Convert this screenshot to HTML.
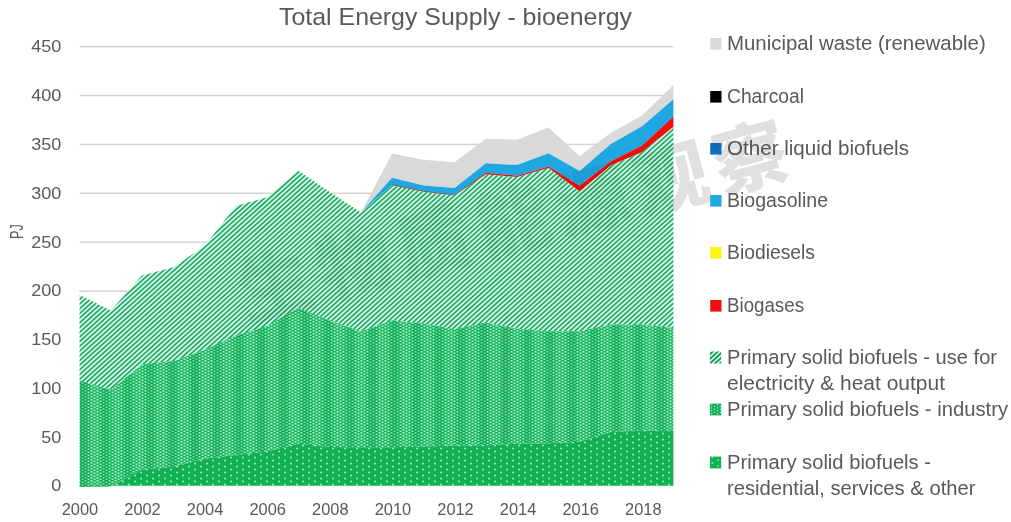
<!DOCTYPE html>
<html lang="en"><head><meta charset="utf-8"><title>Total Energy Supply - bioenergy</title>
<style>
html,body{margin:0;padding:0;background:#fff;}
body{width:1011px;height:522px;overflow:hidden;font-family:"Liberation Sans","Noto Sans CJK SC",sans-serif;}
svg{display:block;will-change:transform;}
text{font-family:"Liberation Sans","Noto Sans CJK SC",sans-serif;fill:#595959;}
.wm{font-family:"Liberation Sans","Noto Sans CJK SC",sans-serif;font-weight:900;}
</style></head><body>
<svg width="1011" height="522" viewBox="0 0 1011 522">
<defs>
<filter id="fBlur" x="0" y="0" width="1011" height="522" filterUnits="userSpaceOnUse"><feGaussianBlur stdDeviation="0.3"/></filter>
<pattern id="pInd" patternUnits="userSpaceOnUse" width="6" height="3">
<rect width="6" height="3" fill="#12a752"/>
<rect x="0.5" y="0" width="2" height="1.6" fill="#98ffcd"/>
<rect x="3.5" y="1.5" width="2" height="1.6" fill="#98ffcd"/>
</pattern>
<pattern id="pRes" patternUnits="userSpaceOnUse" width="12" height="6">
<rect width="12" height="6" fill="#14ae55"/>
<rect x="2.2" y="0.7" width="1.7" height="1.7" fill="#90ffc0"/>
<rect x="8.2" y="3.7" width="1.7" height="1.7" fill="#90ffc0"/>
</pattern>
</defs>
<rect width="1011" height="522" fill="#ffffff"/>

<text class="wm" transform="translate(793,174.4) rotate(-15)" font-size="74" x="-566 -484 -402 -320 -238 -156 -74" y="0" style="fill:#000;fill-opacity:0.07">生物质能源观察</text>
<rect x="79.6" y="45.85" width="594" height="1.5" fill="#d3d3d3"/>
<rect x="79.6" y="94.75" width="594" height="1.5" fill="#d3d3d3"/>
<rect x="79.6" y="143.65" width="594" height="1.5" fill="#d3d3d3"/>
<rect x="79.6" y="192.55" width="594" height="1.5" fill="#d3d3d3"/>
<rect x="79.6" y="241.45" width="594" height="1.5" fill="#d3d3d3"/>
<rect x="79.6" y="290.35" width="594" height="1.5" fill="#d3d3d3"/>
<rect x="79.6" y="339.25" width="594" height="1.5" fill="#d3d3d3"/>
<rect x="79.6" y="388.15" width="594" height="1.5" fill="#d3d3d3"/>
<rect x="79.6" y="437.05" width="594" height="1.5" fill="#d3d3d3"/>
<polygon points="79.6,295.1 110.8,310.5 142.1,275.6 173.3,267.3 204.6,246.1 235.8,206.0 267.1,197.2 298.4,170.8 329.6,192.1 360.9,212.4 392.1,153.4 423.4,159.7 454.6,162.3 485.9,138.7 517.1,139.7 548.4,127.4 579.6,156.0 610.9,132.7 642.1,115.6 673.4,84.9 673.4,99.2 642.1,126.2 610.9,144.1 579.6,170.9 548.4,153.2 517.1,165.1 485.9,163.3 454.6,188.1 423.4,185.6 392.1,177.8 360.9,212.4 329.6,192.1 298.4,170.8 267.1,197.2 235.8,206.0 204.6,246.1 173.3,267.3 142.1,275.6 110.8,310.5 79.6,295.1" fill="#d9d9d9"/>
<polygon points="79.6,295.1 110.8,310.5 142.1,275.6 173.3,267.3 204.6,246.1 235.8,206.0 267.1,197.2 298.4,170.8 329.6,192.1 360.9,212.4 392.1,177.8 423.4,185.6 454.6,188.1 485.9,163.3 517.1,165.1 548.4,153.2 579.6,170.9 610.9,144.1 642.1,126.2 673.4,99.2 673.4,116.5 642.1,145.4 610.9,161.3 579.6,185.7 548.4,166.5 517.1,175.7 485.9,172.8 454.6,195.1 423.4,191.4 392.1,185.2 360.9,212.4 329.6,192.1 298.4,170.8 267.1,197.2 235.8,206.0 204.6,246.1 173.3,267.3 142.1,275.6 110.8,310.5 79.6,295.1" fill="#1ea7e1"/>
<polygon points="79.6,295.1 110.8,310.5 142.1,275.6 173.3,267.3 204.6,246.1 235.8,206.0 267.1,197.2 298.4,170.8 329.6,192.1 360.9,212.4 392.1,185.2 423.4,191.4 454.6,195.1 485.9,172.8 517.1,175.7 548.4,166.5 579.6,185.7 610.9,161.3 642.1,145.4 673.4,116.5 673.4,127.1 642.1,152.2 610.9,165.5 579.6,191.4 548.4,167.9 517.1,177.1 485.9,174.2 454.6,195.5 423.4,191.7 392.1,185.2 360.9,212.4 329.6,192.1 298.4,170.8 267.1,197.2 235.8,206.0 204.6,246.1 173.3,267.3 142.1,275.6 110.8,310.5 79.6,295.1" fill="#f00f0f"/>
<polyline points="298.4,170.5 329.6,191.8 360.9,212.1" fill="none" stroke="#ffffa8" stroke-width="1.2" stroke-opacity="0.55"/>
<polyline points="392.1,185.2 423.4,191.7 454.6,195.5 485.9,174.2 517.1,177.1 548.4,167.9" fill="none" stroke="#c81818" stroke-width="1.2" stroke-opacity="0.85"/>
<clipPath id="cDiag"><polygon points="79.6,295.1 110.8,310.5 142.1,275.6 173.3,267.3 204.6,246.1 235.8,206.0 267.1,197.2 298.4,170.8 329.6,192.1 360.9,212.4 392.1,185.2 423.4,191.7 454.6,195.5 485.9,174.2 517.1,177.1 548.4,167.9 579.6,191.4 610.9,165.5 642.1,152.2 673.4,127.1 673.4,327.9 642.1,324.4 610.9,324.4 579.6,331.2 548.4,331.2 517.1,328.8 485.9,322.6 454.6,329.2 423.4,323.6 392.1,320.6 360.9,331.6 329.6,320.6 298.4,307.8 267.1,326.0 235.8,335.6 204.6,350.0 173.3,360.9 142.1,364.2 110.8,390.0 79.6,380.5"/></clipPath>
<g clip-path="url(#cDiag)"><rect x="79" y="100" width="596" height="300" fill="#c6ffe5"/>
<g filter="url(#fBlur)"><path d="M-302.82,410.0L51.23,90.0M-297.62,410.0L56.43,90.0M-292.42,410.0L61.63,90.0M-287.22,410.0L66.83,90.0M-282.02,410.0L72.03,90.0M-276.82,410.0L77.23,90.0M-271.62,410.0L82.43,90.0M-266.42,410.0L87.63,90.0M-261.22,410.0L92.83,90.0M-256.02,410.0L98.03,90.0M-250.82,410.0L103.23,90.0M-245.62,410.0L108.43,90.0M-240.42,410.0L113.63,90.0M-235.22,410.0L118.83,90.0M-230.02,410.0L124.03,90.0M-224.82,410.0L129.23,90.0M-219.62,410.0L134.43,90.0M-214.42,410.0L139.63,90.0M-209.22,410.0L144.83,90.0M-204.02,410.0L150.03,90.0M-198.82,410.0L155.23,90.0M-193.62,410.0L160.43,90.0M-188.42,410.0L165.63,90.0M-183.22,410.0L170.83,90.0M-178.02,410.0L176.03,90.0M-172.82,410.0L181.23,90.0M-167.62,410.0L186.43,90.0M-162.42,410.0L191.63,90.0M-157.22,410.0L196.83,90.0M-152.02,410.0L202.03,90.0M-146.82,410.0L207.23,90.0M-141.62,410.0L212.43,90.0M-136.42,410.0L217.63,90.0M-131.22,410.0L222.83,90.0M-126.02,410.0L228.03,90.0M-120.82,410.0L233.23,90.0M-115.62,410.0L238.43,90.0M-110.42,410.0L243.63,90.0M-105.22,410.0L248.83,90.0M-100.02,410.0L254.03,90.0M-94.82,410.0L259.23,90.0M-89.62,410.0L264.43,90.0M-84.42,410.0L269.63,90.0M-79.22,410.0L274.83,90.0M-74.02,410.0L280.03,90.0M-68.82,410.0L285.23,90.0M-63.62,410.0L290.43,90.0M-58.42,410.0L295.63,90.0M-53.22,410.0L300.83,90.0M-48.02,410.0L306.03,90.0M-42.82,410.0L311.23,90.0M-37.62,410.0L316.43,90.0M-32.42,410.0L321.63,90.0M-27.22,410.0L326.83,90.0M-22.02,410.0L332.03,90.0M-16.82,410.0L337.23,90.0M-11.62,410.0L342.43,90.0M-6.42,410.0L347.63,90.0M-1.22,410.0L352.83,90.0M3.98,410.0L358.03,90.0M9.18,410.0L363.23,90.0M14.38,410.0L368.43,90.0M19.58,410.0L373.63,90.0M24.78,410.0L378.83,90.0M29.98,410.0L384.03,90.0M35.18,410.0L389.23,90.0M40.38,410.0L394.43,90.0M45.58,410.0L399.63,90.0M50.78,410.0L404.83,90.0M55.98,410.0L410.03,90.0M61.18,410.0L415.23,90.0M66.38,410.0L420.43,90.0M71.58,410.0L425.63,90.0M76.78,410.0L430.83,90.0M81.98,410.0L436.03,90.0M87.18,410.0L441.23,90.0M92.38,410.0L446.43,90.0M97.58,410.0L451.63,90.0M102.78,410.0L456.83,90.0M107.98,410.0L462.03,90.0M113.18,410.0L467.23,90.0M118.38,410.0L472.43,90.0M123.58,410.0L477.63,90.0M128.78,410.0L482.83,90.0M133.98,410.0L488.03,90.0M139.18,410.0L493.23,90.0M144.38,410.0L498.43,90.0M149.58,410.0L503.63,90.0M154.78,410.0L508.83,90.0M159.98,410.0L514.03,90.0M165.18,410.0L519.23,90.0M170.38,410.0L524.43,90.0M175.58,410.0L529.63,90.0M180.78,410.0L534.83,90.0M185.98,410.0L540.03,90.0M191.18,410.0L545.23,90.0M196.38,410.0L550.43,90.0M201.58,410.0L555.63,90.0M206.78,410.0L560.83,90.0M211.98,410.0L566.03,90.0M217.18,410.0L571.23,90.0M222.38,410.0L576.43,90.0M227.58,410.0L581.63,90.0M232.78,410.0L586.83,90.0M237.98,410.0L592.03,90.0M243.18,410.0L597.23,90.0M248.38,410.0L602.43,90.0M253.58,410.0L607.63,90.0M258.78,410.0L612.83,90.0M263.98,410.0L618.03,90.0M269.18,410.0L623.23,90.0M274.38,410.0L628.43,90.0M279.58,410.0L633.63,90.0M284.78,410.0L638.83,90.0M289.98,410.0L644.03,90.0M295.18,410.0L649.23,90.0M300.38,410.0L654.43,90.0M305.58,410.0L659.63,90.0M310.78,410.0L664.83,90.0M315.98,410.0L670.03,90.0M321.18,410.0L675.23,90.0M326.38,410.0L680.43,90.0M331.58,410.0L685.63,90.0M336.78,410.0L690.83,90.0M341.98,410.0L696.03,90.0M347.18,410.0L701.23,90.0M352.38,410.0L706.43,90.0M357.58,410.0L711.63,90.0M362.78,410.0L716.83,90.0M367.98,410.0L722.03,90.0M373.18,410.0L727.23,90.0M378.38,410.0L732.43,90.0M383.58,410.0L737.63,90.0M388.78,410.0L742.83,90.0M393.98,410.0L748.03,90.0M399.18,410.0L753.23,90.0M404.38,410.0L758.43,90.0M409.58,410.0L763.63,90.0M414.78,410.0L768.83,90.0M419.98,410.0L774.03,90.0M425.18,410.0L779.23,90.0M430.38,410.0L784.43,90.0M435.58,410.0L789.63,90.0M440.78,410.0L794.83,90.0M445.98,410.0L800.03,90.0M451.18,410.0L805.23,90.0M456.38,410.0L810.43,90.0M461.58,410.0L815.63,90.0M466.78,410.0L820.83,90.0M471.98,410.0L826.03,90.0M477.18,410.0L831.23,90.0M482.38,410.0L836.43,90.0M487.58,410.0L841.63,90.0M492.78,410.0L846.83,90.0M497.98,410.0L852.03,90.0M503.18,410.0L857.23,90.0M508.38,410.0L862.43,90.0M513.58,410.0L867.63,90.0M518.78,410.0L872.83,90.0M523.98,410.0L878.03,90.0M529.18,410.0L883.23,90.0M534.38,410.0L888.43,90.0M539.58,410.0L893.63,90.0M544.78,410.0L898.83,90.0M549.98,410.0L904.03,90.0M555.18,410.0L909.23,90.0M560.38,410.0L914.43,90.0M565.58,410.0L919.63,90.0M570.78,410.0L924.83,90.0M575.98,410.0L930.03,90.0M581.18,410.0L935.23,90.0M586.38,410.0L940.43,90.0M591.58,410.0L945.63,90.0M596.78,410.0L950.83,90.0M601.98,410.0L956.03,90.0M607.18,410.0L961.23,90.0M612.38,410.0L966.43,90.0M617.58,410.0L971.63,90.0M622.78,410.0L976.83,90.0M627.98,410.0L982.03,90.0M633.18,410.0L987.23,90.0M638.38,410.0L992.43,90.0M643.58,410.0L997.63,90.0M648.78,410.0L1002.83,90.0M653.98,410.0L1008.03,90.0M659.18,410.0L1013.23,90.0M664.38,410.0L1018.43,90.0M669.58,410.0L1023.63,90.0M674.78,410.0L1028.83,90.0M679.98,410.0L1034.03,90.0M685.18,410.0L1039.23,90.0M690.38,410.0L1044.43,90.0M695.58,410.0L1049.63,90.0M700.78,410.0L1054.83,90.0" stroke="#229b5d" stroke-width="1.50" fill="none" shape-rendering="auto"/></g>
</g>
<polygon points="79.6,380.5 110.8,390.0 142.1,364.2 173.3,360.9 204.6,350.0 235.8,335.6 267.1,326.0 298.4,307.8 329.6,320.6 360.9,331.6 392.1,320.6 423.4,323.6 454.6,329.2 485.9,322.6 517.1,328.8 548.4,331.2 579.6,331.2 610.9,324.4 642.1,324.4 673.4,327.9 673.4,431.0 642.1,430.6 610.9,431.9 579.6,441.7 548.4,443.2 517.1,443.8 485.9,445.3 454.6,445.6 423.4,446.6 392.1,447.2 360.9,447.2 329.6,446.9 298.4,443.8 267.1,451.6 235.8,455.1 204.6,458.8 173.3,466.7 142.1,469.4 110.8,486.2 79.6,486.7" fill="url(#pInd)"/>
<clipPath id="cInd"><polygon points="79.6,380.5 110.8,390.0 142.1,364.2 173.3,360.9 204.6,350.0 235.8,335.6 267.1,326.0 298.4,307.8 329.6,320.6 360.9,331.6 392.1,320.6 423.4,323.6 454.6,329.2 485.9,322.6 517.1,328.8 548.4,331.2 579.6,331.2 610.9,324.4 642.1,324.4 673.4,327.9 673.4,431.0 642.1,430.6 610.9,431.9 579.6,441.7 548.4,443.2 517.1,443.8 485.9,445.3 454.6,445.6 423.4,446.6 392.1,447.2 360.9,447.2 329.6,446.9 298.4,443.8 267.1,451.6 235.8,455.1 204.6,458.8 173.3,466.7 142.1,469.4 110.8,486.2 79.6,486.7"/></clipPath>
<g clip-path="url(#cInd)"><rect x="80.1" y="300" width="7" height="190" fill="#0a9a4a" fill-opacity="0.28"/><rect x="90.2" y="300" width="9" height="190" fill="#c8ffe4" fill-opacity="0.10"/><rect x="102.3" y="300" width="7" height="190" fill="#0a9a4a" fill-opacity="0.28"/><rect x="112.4" y="300" width="9" height="190" fill="#c8ffe4" fill-opacity="0.10"/><rect x="124.5" y="300" width="7" height="190" fill="#0a9a4a" fill-opacity="0.28"/><rect x="134.6" y="300" width="9" height="190" fill="#c8ffe4" fill-opacity="0.10"/><rect x="146.7" y="300" width="7" height="190" fill="#0a9a4a" fill-opacity="0.28"/><rect x="156.8" y="300" width="9" height="190" fill="#c8ffe4" fill-opacity="0.10"/><rect x="168.9" y="300" width="7" height="190" fill="#0a9a4a" fill-opacity="0.28"/><rect x="179.0" y="300" width="9" height="190" fill="#c8ffe4" fill-opacity="0.10"/><rect x="191.1" y="300" width="7" height="190" fill="#0a9a4a" fill-opacity="0.28"/><rect x="201.2" y="300" width="9" height="190" fill="#c8ffe4" fill-opacity="0.10"/><rect x="213.3" y="300" width="7" height="190" fill="#0a9a4a" fill-opacity="0.28"/><rect x="223.4" y="300" width="9" height="190" fill="#c8ffe4" fill-opacity="0.10"/><rect x="235.5" y="300" width="7" height="190" fill="#0a9a4a" fill-opacity="0.28"/><rect x="245.6" y="300" width="9" height="190" fill="#c8ffe4" fill-opacity="0.10"/><rect x="257.7" y="300" width="7" height="190" fill="#0a9a4a" fill-opacity="0.28"/><rect x="267.8" y="300" width="9" height="190" fill="#c8ffe4" fill-opacity="0.10"/><rect x="279.9" y="300" width="7" height="190" fill="#0a9a4a" fill-opacity="0.28"/><rect x="290.0" y="300" width="9" height="190" fill="#c8ffe4" fill-opacity="0.10"/><rect x="302.1" y="300" width="7" height="190" fill="#0a9a4a" fill-opacity="0.28"/><rect x="312.2" y="300" width="9" height="190" fill="#c8ffe4" fill-opacity="0.10"/><rect x="324.3" y="300" width="7" height="190" fill="#0a9a4a" fill-opacity="0.28"/><rect x="334.4" y="300" width="9" height="190" fill="#c8ffe4" fill-opacity="0.10"/><rect x="346.5" y="300" width="7" height="190" fill="#0a9a4a" fill-opacity="0.28"/><rect x="356.6" y="300" width="9" height="190" fill="#c8ffe4" fill-opacity="0.10"/><rect x="368.7" y="300" width="7" height="190" fill="#0a9a4a" fill-opacity="0.28"/><rect x="378.8" y="300" width="9" height="190" fill="#c8ffe4" fill-opacity="0.10"/><rect x="390.9" y="300" width="7" height="190" fill="#0a9a4a" fill-opacity="0.28"/><rect x="401.0" y="300" width="9" height="190" fill="#c8ffe4" fill-opacity="0.10"/><rect x="413.1" y="300" width="7" height="190" fill="#0a9a4a" fill-opacity="0.28"/><rect x="423.2" y="300" width="9" height="190" fill="#c8ffe4" fill-opacity="0.10"/><rect x="435.3" y="300" width="7" height="190" fill="#0a9a4a" fill-opacity="0.28"/><rect x="445.4" y="300" width="9" height="190" fill="#c8ffe4" fill-opacity="0.10"/><rect x="457.5" y="300" width="7" height="190" fill="#0a9a4a" fill-opacity="0.28"/><rect x="467.6" y="300" width="9" height="190" fill="#c8ffe4" fill-opacity="0.10"/><rect x="479.7" y="300" width="7" height="190" fill="#0a9a4a" fill-opacity="0.28"/><rect x="489.8" y="300" width="9" height="190" fill="#c8ffe4" fill-opacity="0.10"/><rect x="501.9" y="300" width="7" height="190" fill="#0a9a4a" fill-opacity="0.28"/><rect x="512.0" y="300" width="9" height="190" fill="#c8ffe4" fill-opacity="0.10"/><rect x="524.1" y="300" width="7" height="190" fill="#0a9a4a" fill-opacity="0.28"/><rect x="534.2" y="300" width="9" height="190" fill="#c8ffe4" fill-opacity="0.10"/><rect x="546.3" y="300" width="7" height="190" fill="#0a9a4a" fill-opacity="0.28"/><rect x="556.4" y="300" width="9" height="190" fill="#c8ffe4" fill-opacity="0.10"/><rect x="568.5" y="300" width="7" height="190" fill="#0a9a4a" fill-opacity="0.28"/><rect x="578.6" y="300" width="9" height="190" fill="#c8ffe4" fill-opacity="0.10"/><rect x="590.7" y="300" width="7" height="190" fill="#0a9a4a" fill-opacity="0.28"/><rect x="600.8" y="300" width="9" height="190" fill="#c8ffe4" fill-opacity="0.10"/><rect x="612.9" y="300" width="7" height="190" fill="#0a9a4a" fill-opacity="0.28"/><rect x="623.0" y="300" width="9" height="190" fill="#c8ffe4" fill-opacity="0.10"/><rect x="635.1" y="300" width="7" height="190" fill="#0a9a4a" fill-opacity="0.28"/><rect x="645.2" y="300" width="9" height="190" fill="#c8ffe4" fill-opacity="0.10"/><rect x="657.3" y="300" width="7" height="190" fill="#0a9a4a" fill-opacity="0.28"/><rect x="667.4" y="300" width="9" height="190" fill="#c8ffe4" fill-opacity="0.10"/></g>
<polygon points="79.6,486.7 110.8,486.2 142.1,469.4 173.3,466.7 204.6,458.8 235.8,455.1 267.1,451.6 298.4,443.8 329.6,446.9 360.9,447.2 392.1,447.2 423.4,446.6 454.6,445.6 485.9,445.3 517.1,443.8 548.4,443.2 579.6,441.7 610.9,431.9 642.1,430.6 673.4,431.0 673.4,485.8 79.6,485.8" fill="url(#pRes)"/>
<text x="61.3" y="52.3" font-size="17" text-anchor="end" textLength="30.1" lengthAdjust="spacingAndGlyphs">450</text>
<text x="61.3" y="101.1" font-size="17" text-anchor="end" textLength="30.1" lengthAdjust="spacingAndGlyphs">400</text>
<text x="61.3" y="149.9" font-size="17" text-anchor="end" textLength="30.1" lengthAdjust="spacingAndGlyphs">350</text>
<text x="61.3" y="198.7" font-size="17" text-anchor="end" textLength="30.1" lengthAdjust="spacingAndGlyphs">300</text>
<text x="61.3" y="247.5" font-size="17" text-anchor="end" textLength="30.1" lengthAdjust="spacingAndGlyphs">250</text>
<text x="61.3" y="296.2" font-size="17" text-anchor="end" textLength="30.1" lengthAdjust="spacingAndGlyphs">200</text>
<text x="61.3" y="345.0" font-size="17" text-anchor="end" textLength="30.1" lengthAdjust="spacingAndGlyphs">150</text>
<text x="61.3" y="393.8" font-size="17" text-anchor="end" textLength="30.1" lengthAdjust="spacingAndGlyphs">100</text>
<text x="61.3" y="442.6" font-size="17" text-anchor="end" textLength="20.0" lengthAdjust="spacingAndGlyphs">50</text>
<text x="61.3" y="491.4" font-size="17" text-anchor="end" textLength="10.0" lengthAdjust="spacingAndGlyphs">0</text>
<text x="79.9" y="515" font-size="16.4" text-anchor="middle">2000</text>
<text x="142.5" y="515" font-size="16.4" text-anchor="middle">2002</text>
<text x="205.1" y="515" font-size="16.4" text-anchor="middle">2004</text>
<text x="267.7" y="515" font-size="16.4" text-anchor="middle">2006</text>
<text x="330.3" y="515" font-size="16.4" text-anchor="middle">2008</text>
<text x="392.9" y="515" font-size="16.4" text-anchor="middle">2010</text>
<text x="455.5" y="515" font-size="16.4" text-anchor="middle">2012</text>
<text x="518.1" y="515" font-size="16.4" text-anchor="middle">2014</text>
<text x="580.7" y="515" font-size="16.4" text-anchor="middle">2016</text>
<text x="643.3" y="515" font-size="16.4" text-anchor="middle">2018</text>
<text transform="translate(23,238.9) rotate(-90)" font-size="17.5" textLength="14.6" lengthAdjust="spacingAndGlyphs">PJ</text>
<text x="279" y="25" font-size="24" textLength="353" lengthAdjust="spacingAndGlyphs">Total Energy Supply - bioenergy</text>
<rect x="710.2" y="38.0" width="11.3" height="11.6" fill="#d9d9d9"/>
<text x="727" y="49.6" font-size="19.3" textLength="258.7" lengthAdjust="spacingAndGlyphs">Municipal waste (renewable)</text>
<rect x="710.2" y="91.0" width="11.3" height="11.6" fill="#000000"/>
<text x="727" y="102.6" font-size="19.3" textLength="77.0" lengthAdjust="spacingAndGlyphs">Charcoal</text>
<rect x="710.2" y="143.0" width="11.3" height="11.6" fill="#0b70c0"/>
<text x="727" y="154.6" font-size="19.3" textLength="182.0" lengthAdjust="spacingAndGlyphs">Other liquid biofuels</text>
<rect x="710.2" y="195.0" width="11.3" height="11.6" fill="#1ea7e1"/>
<text x="727" y="206.6" font-size="19.3" textLength="101.0" lengthAdjust="spacingAndGlyphs">Biogasoline</text>
<rect x="710.2" y="247.0" width="11.3" height="11.6" fill="#fff41a"/>
<text x="727" y="258.6" font-size="19.3" textLength="88.0" lengthAdjust="spacingAndGlyphs">Biodiesels</text>
<rect x="710.2" y="300.0" width="11.3" height="11.6" fill="#f00f0f"/>
<text x="727" y="311.6" font-size="19.3" textLength="77.0" lengthAdjust="spacingAndGlyphs">Biogases</text>
<clipPath id="cm1"><rect x="709.9" y="351.6" width="11.3" height="11.8"/></clipPath>
<g clip-path="url(#cm1)"><rect x="709.9" y="351.6" width="11.3" height="11.8" fill="#d9fff0"/>
<path d="M683.91,364.4L698.91,350.6M688.91,364.4L703.91,350.6M693.91,364.4L708.91,350.6M698.91,364.4L713.91,350.6M703.91,364.4L718.91,350.6M708.91,364.4L723.91,350.6M713.91,364.4L728.91,350.6M718.91,364.4L733.91,350.6M723.91,364.4L738.91,350.6M728.91,364.4L743.91,350.6" stroke="#1f9458" stroke-width="1.90" fill="none" shape-rendering="auto"/>
</g>
<text x="727" y="363.6" font-size="19.3" textLength="270.0" lengthAdjust="spacingAndGlyphs">Primary solid biofuels - use for</text>
<text x="727" y="389.6" font-size="19.3" textLength="218.0" lengthAdjust="spacingAndGlyphs">electricity &amp; heat output</text>
<rect x="709.9" y="403.6" width="11.3" height="11.8" fill="#14a653"/>
<rect x="710.8" y="404.2" width="1.5" height="1.3" fill="#8dfcc4"/><rect x="710.8" y="407.2" width="1.5" height="1.3" fill="#8dfcc4"/><rect x="710.8" y="410.2" width="1.5" height="1.3" fill="#8dfcc4"/><rect x="710.8" y="413.2" width="1.5" height="1.3" fill="#8dfcc4"/><rect x="713.8" y="405.7" width="1.5" height="1.3" fill="#8dfcc4"/><rect x="713.8" y="408.7" width="1.5" height="1.3" fill="#8dfcc4"/><rect x="713.8" y="411.7" width="1.5" height="1.3" fill="#8dfcc4"/><rect x="716.8" y="404.2" width="1.5" height="1.3" fill="#8dfcc4"/><rect x="716.8" y="407.2" width="1.5" height="1.3" fill="#8dfcc4"/><rect x="716.8" y="410.2" width="1.5" height="1.3" fill="#8dfcc4"/><rect x="716.8" y="413.2" width="1.5" height="1.3" fill="#8dfcc4"/><rect x="719.8" y="405.7" width="1.5" height="1.3" fill="#8dfcc4"/><rect x="719.8" y="408.7" width="1.5" height="1.3" fill="#8dfcc4"/><rect x="719.8" y="411.7" width="1.5" height="1.3" fill="#8dfcc4"/>
<text x="727" y="415.6" font-size="19.3" textLength="281.0" lengthAdjust="spacingAndGlyphs">Primary solid biofuels - industry</text>
<rect x="709.9" y="456.6" width="11.3" height="11.8" fill="#14ae55"/>
<rect x="711.6" y="456.6" width="1.5" height="1.5" fill="#8effc0"/>
<rect x="717.5" y="459.4" width="1.5" height="1.5" fill="#8effc0"/>
<rect x="711.6" y="462.4" width="1.5" height="1.5" fill="#8effc0"/>
<rect x="717.2" y="465.2" width="1.5" height="1.5" fill="#8effc0"/>
<text x="727" y="468.6" font-size="19.3" textLength="204.0" lengthAdjust="spacingAndGlyphs">Primary solid biofuels -</text>
<text x="727" y="494.6" font-size="19.3" textLength="248.5" lengthAdjust="spacingAndGlyphs">residential, services &amp; other</text>
<text class="wm" transform="translate(793,174.4) rotate(-15)" font-size="74" x="-566 -484 -402 -320 -238 -156 -74" y="0" style="fill:#000;fill-opacity:0.055">生物质能源观察</text>
</svg></body></html>
